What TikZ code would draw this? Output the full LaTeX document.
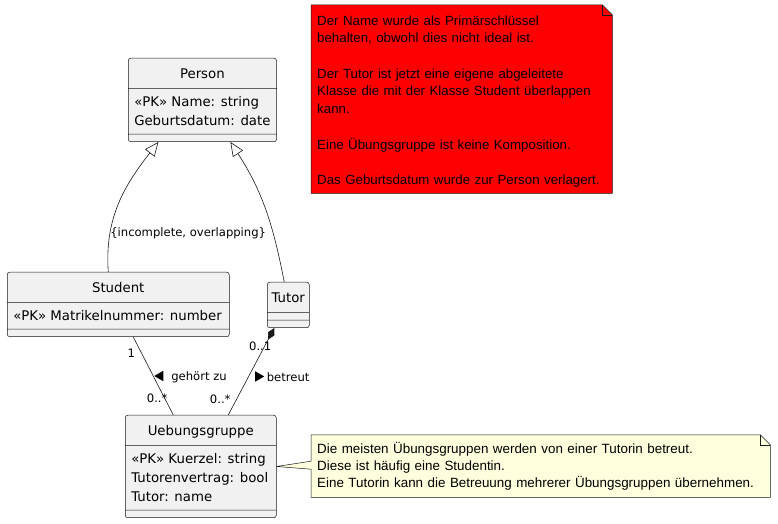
\documentclass[tikz,border=0pt]{standalone}
\usepackage{fontspec}
\usepackage{tikz}
\usetikzlibrary{arrows.meta,shapes.multipart,shapes.geometric,backgrounds}
\newfontfamily\umlfont{DejaVu Sans}
\newfontfamily\notefont{Liberation Sans}
\definecolor{clsfill}{HTML}{F1F1F1}
\definecolor{clsline}{HTML}{181818}
\definecolor{notered}{HTML}{FF0000}
\definecolor{noteyellow}{HTML}{FEFFDD}
\newcommand\ttl[1]{\rule[-6.5pt]{0pt}{23pt}#1}
\newcommand\att{\rule[-4.5pt]{0pt}{19pt}}
\newcommand\attrs[1]{{\renewcommand\arraystretch{0}\begin{tabular}{@{}l@{}}#1\end{tabular}}}
\newcommand\nil{\rule{1pt}{0pt}}

\begin{document}
\begin{tikzpicture}[x=1pt, y=1pt,
  cls/.style={rectangle split, rectangle split parts=3,
    rectangle split part align={center,left,left},
    draw=clsline, line width=0.5pt, fill=clsfill, rounded corners=2.5pt,
    anchor=north west, inner xsep=6pt, inner ysep=3.5pt,
    font=\umlfont\fontsize{13.3}{19}\selectfont},
  note/.style={anchor=north west, inner xsep=6pt, inner ysep=0pt, align=left},
  noteline/.style={draw=clsline, line width=0.5pt},
  lbl/.style={inner sep=0pt, font=\umlfont\fontsize{11.6}{13}\selectfont},
  tri/.style={isosceles triangle, fill=black, inner sep=0pt, minimum height=9pt,
    isosceles triangle apex angle=60},
  gen/.style={draw=clsline, line width=0.6pt, -{Triangle[length=14pt,width=12pt,fill=white]}},
  assoc/.style={draw=clsline, line width=0.6pt}]
  \useasboundingbox (0,0) rectangle (778,524);

  % classes
  \node[cls, minimum width=148pt] (per) at (128,466)
    {\ttl{Person}\nodepart{two}\attrs{\att«PK» Name: string\\\att Geburtsdatum: date}\nodepart{three}\nil};
  \node[cls, minimum width=222pt] (stu) at (7,252)
    {\ttl{Student}\nodepart{two}\attrs{\att«PK» Matrikelnummer: number}\nodepart{three}\nil};
  \node[cls, minimum width=42pt, inner xsep=3pt] (tut) at (267,242)
    {\ttl{Tutor}\nodepart{two}\nil\nodepart{three}\nil};
  \node[cls, minimum width=151pt] (ueb) at (125,109)
    {\ttl{Uebungsgruppe}\nodepart{two}\attrs{\att«PK» Kuerzel: string\\\att Tutorenvertrag: bool\\\att Tutor: name}\nodepart{three}\nil};

  % notes
  \node[note, text width=289pt, minimum height=188pt,
    font=\notefont\fontsize{13.3}{17.7}\selectfont] (red) at (311,519)
    {\rule{0pt}{14pt}Der Name wurde als Primärschlüssel\\behalten, obwohl dies nicht ideal ist.\\[17.7pt]
     Der Tutor ist jetzt eine eigene abgeleitete\\Klasse die mit der Klasse Student überlappen\\kann.\\[17.7pt]
     Eine Übungsgruppe ist keine Komposition.\\[17.7pt]
     Das Geburtsdatum wurde zur Person verlagert.};
  \node[note, text width=447pt, minimum height=62pt,
    font=\notefont\fontsize{13.4}{17}\selectfont] (yel) at (311,89)
    {\rule{0pt}{12pt}Die meisten Übungsgruppen werden von einer Tutorin betreut.\\
     Diese ist häufig eine Studentin.\\
     Eine Tutorin kann die Betreuung mehrerer Übungsgruppen übernehmen.};

  \begin{scope}[on background layer]
    \draw[noteline, fill=notered] (red.north west) -- ([xshift=-10pt]red.north east)
      -- ([yshift=-10pt]red.north east) -- (red.south east) -- (red.south west) -- cycle;
    \draw[noteline] ([xshift=-10pt]red.north east) |- ([yshift=-10pt]red.north east);
    \draw[noteline, fill=noteyellow] (yel.north west) -- ([xshift=-10pt]yel.north east)
      -- ([yshift=-10pt]yel.north east) -- (yel.south east) -- (yel.south west)
      -- ([yshift=-3pt]yel.west) -- (ueb.east) -- ([yshift=5pt]yel.west) -- cycle;
    \draw[noteline] ([xshift=-10pt]yel.north east) |- ([yshift=-10pt]yel.north east);
  \end{scope}

  % generalisation
  \path
  ([xshift=-10pt]stu.north) edge[gen, out=94, in=232]
    node[lbl, pos=0.26, anchor=west] {\{incomplete, overlapping\}}
    ([xshift=-44pt]per.south)
  ([xshift=-4pt]tut.north) edge[gen, out=101, in=303] ([xshift=28pt]per.south)
  ;
  % associations
  \path
  ([xshift=15pt]stu.south) edge[assoc]
    node[lbl, pos=0.215, xshift=-10.5pt] {1}
    node[lbl, pos=0.785, xshift=-7.5pt] {0..*}
    node[tri, pos=0.5, xshift=7pt, shape border rotate=160] {}
    node[lbl, pos=0.52, anchor=west, xshift=17pt] {gehört zu}
    ([xshift=-27.5pt]ueb.north)
  ([xshift=-14pt]tut.south) edge[assoc, {Diamond[length=13pt,width=7pt]}-]
    node[lbl, pos=0.205, xshift=-4.6pt] {0..1}
    node[lbl, pos=0.818, xshift=-16.4pt] {0..*}
    node[tri, pos=0.557, xshift=9.6pt, shape border rotate=-20] {}
    node[lbl, pos=0.56, anchor=west, xshift=18pt] {betreut}
    ([xshift=27.5pt]ueb.north)
  ;
\end{tikzpicture}
\end{document}
